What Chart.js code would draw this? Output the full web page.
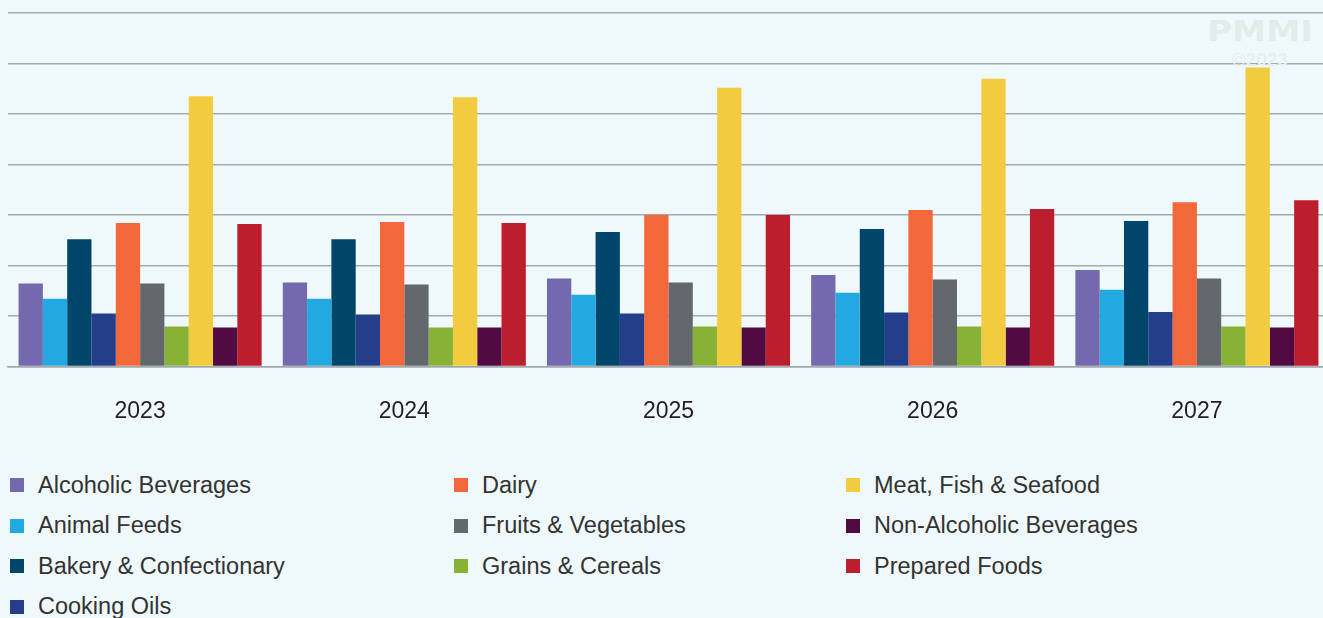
<!DOCTYPE html>
<html>
<head>
<meta charset="utf-8">
<script src="https://cdn.jsdelivr.net/npm/chart.js@4.4.0/dist/chart.umd.min.js"></script>
<style>
  html, body { margin: 0; padding: 0; background: #eff8fa; overflow: hidden; }
  body { width: 1323px; height: 618px; position: relative; font-family: "Liberation Sans", Arial, sans-serif; }
  #chartBox { position: absolute; left: 0; top: 0; width: 1340px; height: 462px; }
  #legend {
    position: absolute; left: 10px; top: 465px;
    display: grid;
    grid-template-rows: repeat(4, 40.5px);
    grid-template-columns: 444px 392px 400px;
  }
  .item { display: flex; align-items: center; font-size: 23.5px; color: #333; white-space: nowrap; }
  .swatch { width: 14px; height: 14px; margin-right: 14px; flex: none; }
  #mark { position: absolute; left: 1206px; top: 17px; width: 108px; text-align: center; color: #e5ebeb; font-weight: bold; line-height: 1; }
  #mark .big { font-size: 29px; font-family: "DejaVu Sans", sans-serif; transform: scaleX(1.18); }
  #mark .small { font-size: 19px; margin-top: 4px; color: #e8eeee; }
</style>
</head>
<body>
<div id="chartBox"><canvas id="marketChart"></canvas></div>
<div id="mark"><div class="big">PMMI</div><div class="small">©2023</div></div>
<div id="legend"></div>
<script>
// Years on the x axis
const years = ['2023', '2024', '2025', '2026', '2027'];

// One array per segment, one value per year
const alcoholicBeverages = [16.4, 16.6, 17.4, 18.1, 19.1];
const animalFeeds = [13.4, 13.4, 14.2, 14.6, 15.2];
const bakeryConfectionary = [25.2, 25.2, 26.6, 27.2, 28.8];
const cookingOils = [10.5, 10.3, 10.5, 10.7, 10.8];
const dairy = [28.4, 28.6, 30.0, 31.0, 32.5];
const fruitsVegetables = [16.4, 16.2, 16.6, 17.2, 17.4];
const grainsCereals = [7.9, 7.7, 7.9, 7.9, 7.9];
const meatFishSeafood = [53.5, 53.3, 55.2, 57.0, 59.2];
const nonAlcoholicBeverages = [7.7, 7.7, 7.7, 7.7, 7.7];
const preparedFoods = [28.2, 28.4, 30.0, 31.2, 32.9];

const segments = [
    { label: 'Alcoholic Beverages', data: alcoholicBeverages, color: '#7469ae' },
    { label: 'Animal Feeds', data: animalFeeds, color: '#23a9e1' },
    { label: 'Bakery & Confectionary', data: bakeryConfectionary, color: '#00466a' },
    { label: 'Cooking Oils', data: cookingOils, color: '#243e8c' },
    { label: 'Dairy', data: dairy, color: '#f3683a' },
    { label: 'Fruits & Vegetables', data: fruitsVegetables, color: '#63676e' },
    { label: 'Grains & Cereals', data: grainsCereals, color: '#87b236' },
    { label: 'Meat, Fish & Seafood', data: meatFishSeafood, color: '#f2cc3e' },
    { label: 'Non-Alcoholic Beverages', data: nonAlcoholicBeverages, color: '#510a42' },
    { label: 'Prepared Foods', data: preparedFoods, color: '#bd1e2d' }
];

const ctx = document.getElementById('marketChart').getContext('2d');
const chart = new Chart(ctx, {
    type: 'bar',
    data: {
        labels: years,
        datasets: segments.map(s => ({
            label: s.label,
            data: s.data,
            backgroundColor: s.color,
            borderWidth: 0,
            categoryPercentage: 0.92,
            barPercentage: 1.0
        }))
    },
    options: {
        responsive: true,
        maintainAspectRatio: false,
        animation: false,
        layout: { padding: { top: 13, bottom: 6, left: 8, right: 11 } },
        plugins: {
            legend: { display: false },
            tooltip: { enabled: false }
        },
        scales: {
            x: {
                grid: { display: false, drawTicks: false },
                border: { display: true, color: '#a3a9ad', width: 1.5 },
                ticks: {
                    padding: 31,
                    color: '#231f20',
                    font: { family: '"Liberation Sans", Arial, sans-serif', size: 23 }
                }
            },
            y: {
                min: 0,
                max: 70,
                ticks: { display: false, stepSize: 10 },
                border: { display: false },
                grid: { color: '#a3a9ad', lineWidth: 1.5, drawTicks: false }
            }
        }
    }
});

// Legend: first column holds four entries, the other two hold three each
const legendEl = document.getElementById('legend');
chart.data.datasets.forEach((ds, i) => {
    const col = i < 4 ? 1 : (i < 7 ? 2 : 3);
    const row = i < 4 ? i + 1 : (i < 7 ? i - 3 : i - 6);
    const item = document.createElement('div');
    item.className = 'item';
    item.style.gridColumn = col;
    item.style.gridRow = row;
    item.innerHTML = `<span class="swatch" style="background:${ds.backgroundColor}"></span>${ds.label}`;
    legendEl.appendChild(item);
});
</script>
</body>
</html>
